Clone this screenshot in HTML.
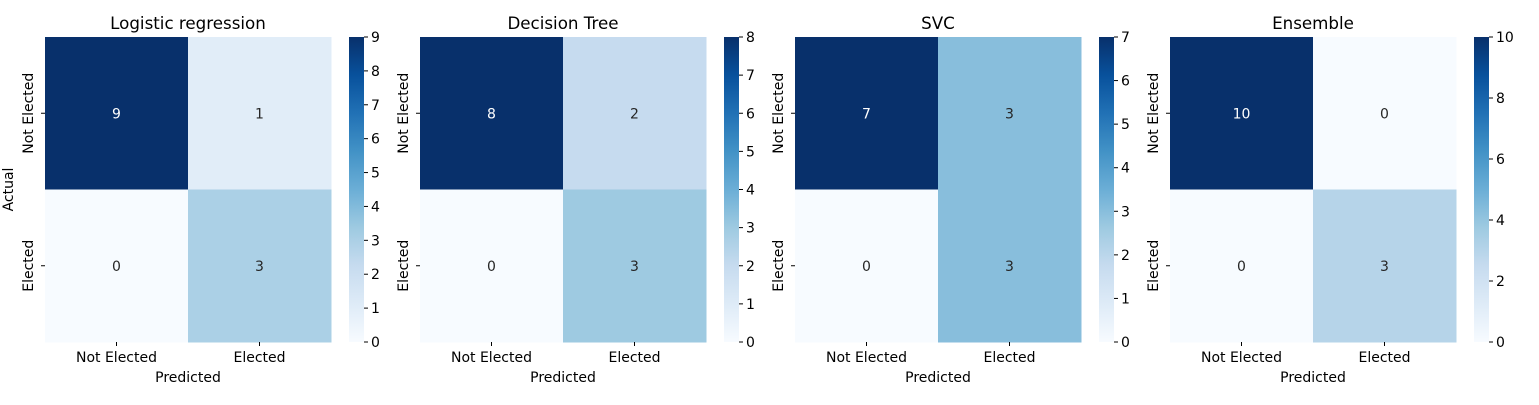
<!DOCTYPE html>
<html><head><meta charset="utf-8"><style>
body{margin:0;background:#fff;font-family:"Liberation Sans","DejaVu Sans",sans-serif}
svg text{font-family:"DejaVu Sans","Liberation Sans",sans-serif}
</style></head><body>
<svg id="c" width="1539" height="400" xmlns="http://www.w3.org/2000/svg"></svg>
<script>
const titles=["Logistic regression","Decision Tree","SVC","Ensemble"];
const categories=["Not Elected","Elected"];
const values=[[[9,1],[0,3]],[[8,2],[0,3]],[[7,3],[0,3]],[[10,0],[0,3]]];
const cbMax=[9,8,7,10];
const cbStep=[1,1,1,2];
const stops=["#f7fbff","#deebf7","#c6dbef","#9ecae1","#6baed6","#4292c6","#2171b5","#08519c","#08306b"];
function hex(h){return [1,3,5].map(i=>parseInt(h.substr(i,2),16));}
function blues(t){t=Math.max(0,Math.min(1,t));const p=t*8,i=Math.min(7,Math.floor(p)),f=p-i;const a=hex(stops[i]),b=hex(stops[i+1]);return "rgb("+a.map((v,k)=>Math.round(v+(b[k]-v)*f)).join(",")+")";}
const svg=document.getElementById('c');const NS="http://www.w3.org/2000/svg";
function el(tag,attrs,parent){const e=document.createElementNS(NS,tag);for(const k in attrs)e.setAttribute(k,attrs[k]);(parent||svg).appendChild(e);return e;}
const defs=el('defs',{});
const lg=el('linearGradient',{id:'g',x1:0,y1:1,x2:0,y2:0},defs);
stops.forEach((s,i)=>el('stop',{offset:(i/8),'stop-color':s},lg));
const X0=45,W=286,Y0=37,H=305,DX=375,FS=14;
titles.forEach((t,p)=>{
  const ox=X0+p*DX;
  const g=el('g',{});
  
  
  const tt=el('text',{x:ox+W/2,y:29,'text-anchor':'middle','font-size':16.7,fill:'#000'},g);tt.textContent=t;
  
  const cw=W/2,ch=H/2,mx=cbMax[p];
  for(let r=0;r<2;r++)for(let c=0;c<2;c++){
    const v=values[p][r][c];const t01=v/mx;
    const rc=el('rect',{x:ox+c*cw,y:Y0+r*ch,width:cw+0.5,height:ch+0.5,fill:blues(t01)},g);
    
    const tx=el('text',{x:ox+c*cw+cw/2,y:Y0+r*ch+ch/2+5,'text-anchor':'middle','font-size':FS,fill:t01>0.5?'#fff':'#262626'},g);tx.textContent=v;
    
  }
  categories.forEach((c,i)=>{
    const x=ox+cw*i+cw/2;
    el('line',{x1:x,x2:x,y1:Y0+H,y2:Y0+H+4,stroke:'#000'},g);
    const lx=el('text',{x:x,y:Y0+H+20,'text-anchor':'middle','font-size':FS},g);lx.textContent=c;
    
    const y=Y0+ch*i+ch/2;
    el('line',{x1:ox-4,x2:ox,y1:y,y2:y,stroke:'#000'},g);
    const ly=el('text',{x:0,y:0,'text-anchor':'middle','font-size':FS,transform:`translate(${ox-12},${y}) rotate(-90)`},g);ly.textContent=c;
    
  }
  );
  const xl=el('text',{x:ox+W/2,y:382,'text-anchor':'middle','font-size':FS},g);xl.textContent='Predicted';
  
  if(p===0){const yl=el('text',{x:0,y:0,'text-anchor':'middle','font-size':FS,transform:`translate(13,${Y0+H/2}) rotate(-90)`},g);yl.textContent='Actual';
    }
  const cx=ox+W+18,cwid=15;
  const cb=el('rect',{x:cx,y:Y0,width:cwid,height:H,fill:'url(#g)'},g);
  
  for(let v=0;v<=mx;v+=cbStep[p]){
    const y=Y0+H-v/mx*H;
    el('line',{x1:cx+cwid,x2:cx+cwid+4,y1:y,y2:y,stroke:'#000'},g);
    const ct=el('text',{x:cx+cwid+7,y:y+5,'font-size':FS},g);ct.textContent=v;
    
  }
});
</script>
</body></html>
